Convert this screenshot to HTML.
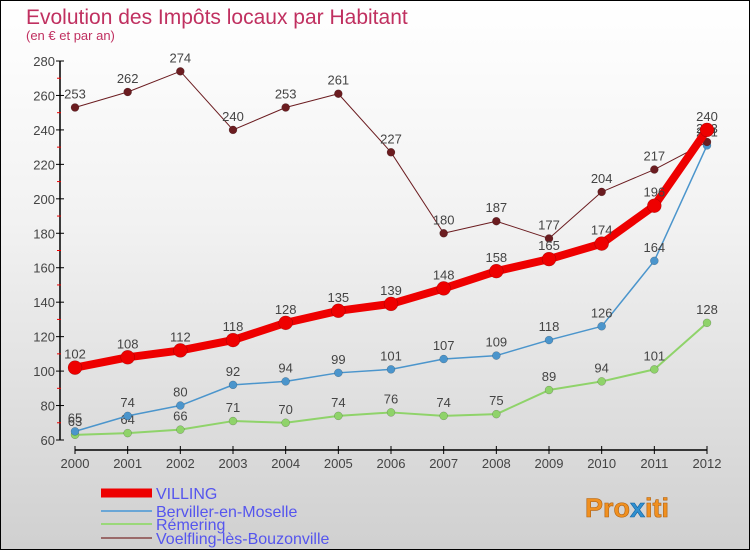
<!DOCTYPE html>
<html><head><meta charset="utf-8"><style>
body{margin:0;width:750px;height:550px;overflow:hidden;font-family:"Liberation Sans",sans-serif}
#wrap{position:relative;width:748px;height:548px;border:1px solid #000;background:linear-gradient(#fff 0%,#f2f2f2 40%,#d0d0d0 100%)}
</style></head><body>
<div id="wrap">
<svg id="chart" width="748" height="548" style="position:absolute;left:0;top:0">
<text x="25" y="23" font-size="21" fill="#c03060">Evolution des Impôts locaux par Habitant</text>
<text x="25" y="39" font-size="13" fill="#c03060">(en € et par an)</text>
<text x="584" y="516" font-size="27" font-weight="bold" fill="#f09020" stroke="#b06010" stroke-width="0.6">Pro<tspan fill="#3090d0" stroke="#1060a0">x</tspan>iti</text>
</svg>
</div>
<script>
const years=[2000,2001,2002,2003,2004,2005,2006,2007,2008,2009,2010,2011,2012];
const yTicks=[60,80,100,120,140,160,180,200,220,240,260,280];
const villing=[102,108,112,118,128,135,139,148,158,165,174,196,240];
const berviller=[65,74,80,92,94,99,101,107,109,118,126,164,231];
const remering=[63,64,66,71,70,74,76,74,75,89,94,101,128];
const voelfling=[253,262,274,240,253,261,227,180,187,177,204,217,233];
const names=["VILLING","Berviller-en-Moselle","Rémering","Voelfling-lès-Bouzonville"];
const NS="http://www.w3.org/2000/svg";
const svg=document.getElementById('chart');
function X(i){return 74+i*(706-74)/(years.length-1);}
function Y(v){return 439-(v-60)*(379/220);}
function el(t,a,p){const e=document.createElementNS(NS,t);for(const k in a)e.setAttribute(k,a[k]);(p||svg).appendChild(e);return e;}
let ax=el('line',{x1:59,y1:Y(280),x2:59,y2:Y(60),stroke:'#000','stroke-width':1.5});


let bx=el('line',{x1:X(0),y1:449,x2:X(12),y2:449,stroke:'#000','stroke-width':1.5});


yTicks.forEach((v,i)=>{
 el('line',{x1:55,x2:63,y1:Y(v),y2:Y(v),stroke:'#000'});
 if(i<yTicks.length-1)el('line',{x1:56,x2:60,y1:Y(v+10),y2:Y(v+10),stroke:'#e00'});
 const t=el('text',{x:54,y:Y(v)+5,'font-size':13,fill:'#444','text-anchor':'end'});
 t.textContent=v;
 
 
});
years.forEach((y,i)=>{
 el('line',{x1:X(i),x2:X(i),y1:445,y2:453,stroke:'#000'});
 const t=el('text',{x:X(i),y:467,'font-size':13,fill:'#444','text-anchor':'middle'});
 t.textContent=y;
 
 
});
function series(data,color,w,r,name){
 const g=el('g',{});
 
 
 el('polyline',{points:data.map((v,i)=>X(i)+','+Y(v)).join(' '),fill:'none',stroke:color,'stroke-width':w,'stroke-linejoin':'round'},g);
 data.forEach((v,i)=>{
  const c=el('circle',{cx:X(i),cy:Y(v),r:r,fill:color,stroke:'rgba(0,0,0,0.3)','stroke-width':0.5},g);
  
  
  const t=el('text',{x:X(i),y:Y(v)-9,'font-size':13,fill:'#444','text-anchor':'middle'},g);
  t.textContent=v;
 });
}
series(remering,'#8fd36a',2,4,'series-remering');
series(berviller,'#4b95cc',1.5,4,'series-berviller');
series(voelfling,'#6b1c20',1,4,'series-voelfling');
series(villing,'#ee0000',8,7,'series-villing');
const cols=['#ee0000','#6aa6d6','#9ad87a','#9a6a6a'];const ws=[9,2,2,2];const ly=[491,509,522,536];
names.forEach((n,i)=>{
 const g=el('g',{});
 
 
 el('line',{x1:100,x2:151,y1:ly[i]+1,y2:ly[i]+1,stroke:cols[i],'stroke-width':ws[i]},g);
 const t=el('text',{x:155,y:ly[i]+7,'font-size':16,fill:'#5555ee'},g);
 t.textContent=n;
});
</script>
</body></html>
